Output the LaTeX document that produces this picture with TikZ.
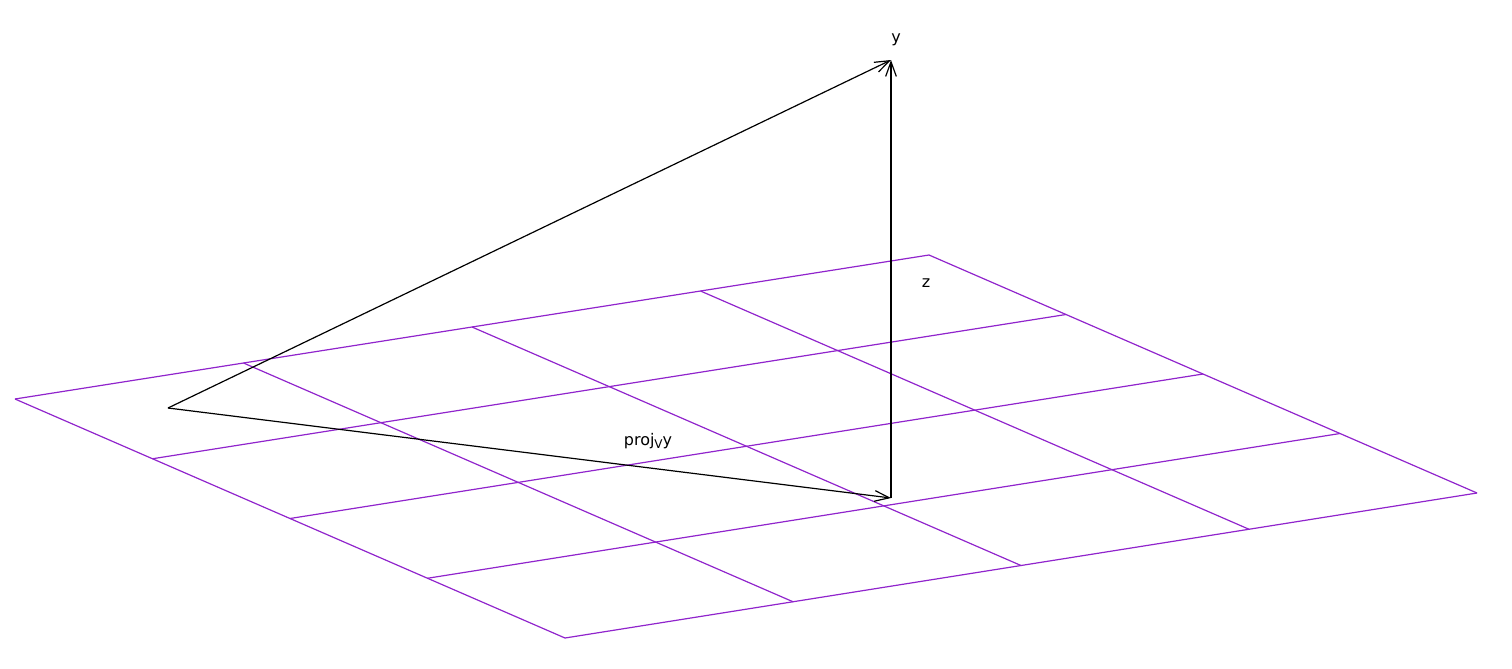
\documentclass[tikz,border=0pt]{standalone}
\usepackage{fontspec}
\setmainfont{DejaVu Sans}
\usetikzlibrary{arrows.meta,calc}
\definecolor{gridc}{HTML}{9024CC}
\begin{document}
\begin{tikzpicture}[x=0.75pt,y=-0.75pt,
  gridline/.style={draw=gridc,line width=0.9pt},
  vec/.style={draw=black,line width=0.9pt,-{Straight Barb[length=11pt,width=8pt,line width=0.9pt]}},
  lbl/.style={font=\fontsize{12}{14}\selectfont,inner sep=0pt}]
\useasboundingbox (0,0) rectangle (1512,668);
\coordinate (L) at (15,399);
\coordinate (T) at (929,255);
\coordinate (R) at (1477,493);
\coordinate (B) at (565,638);
\foreach \i in {0,1,2,3,4}{
  \draw[gridline] ($(L)!\i/4!(T)$) -- ($(B)!\i/4!(R)$);
  \draw[gridline] ($(L)!\i/4!(B)$) -- ($(T)!\i/4!(R)$);
}
\coordinate (O) at (168,408);
\coordinate (Y) at (891,60);
\coordinate (P) at (891,498);
\draw[vec] (O) -- (Y);
\draw[vec] (O) -- (P);
\draw[vec] (P) -- (Y);
\node[lbl] (ly) at (896,40) {y};
\node[lbl] (lz) at (926,283) {z};
\node[lbl] (lp) at (648,441) {proj\raisebox{-0.35ex}{\fontsize{9}{10}\selectfont V}y};
\end{tikzpicture}
\end{document}
